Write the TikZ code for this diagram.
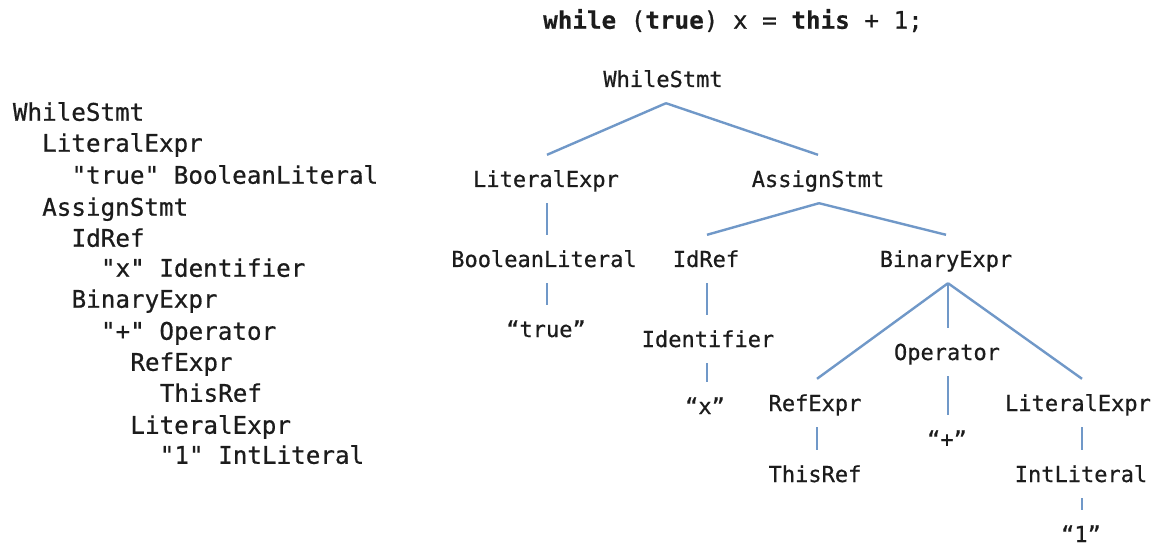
\documentclass[tikz,border=0pt]{standalone}
\usepackage{fontspec}
\setmonofont[FakeBold=0.6,BoldFeatures={FakeBold=0.3}]{DejaVu Sans Mono}
\definecolor{edgeblue}{RGB}{112,152,200}
\definecolor{ink}{RGB}{28,28,28}
\begin{document}
\begin{tikzpicture}[x=1pt,y=-1pt,
  treenode/.style={font=\fontsize{22}{22}\selectfont\ttfamily, text=ink, anchor=center,
    text height=16pt, text depth=0pt, inner xsep=0pt, inner ysep=16pt},
  listline/.style={font=\fontsize{24.25}{24.25}\selectfont\ttfamily, text=ink, anchor=west,
    text height=17.5pt, text depth=0pt, inner sep=0pt},
  edge/.style={draw=edgeblue, line width=2.4pt}]
\useasboundingbox (0,0) rectangle (1159,545);
\fill[white] (0,0) rectangle (1159,545);

% title
\node[listline] (title) at (543,20) {\textbf{while} (\textbf{true}) x = \textbf{this} + 1;};

% left indented listing
\node[listline] (l1)  at (12.7,112) {WhileStmt};
\node[listline] (l2)  at (42.0,143) {LiteralExpr};
\node[listline] (l3)  at (71.4,175) {"true" BooleanLiteral};
\node[listline] (l4)  at (42.0,207) {AssignStmt};
\node[listline] (l5)  at (71.4,238) {IdRef};
\node[listline] (l6)  at (100.8,268) {"x" Identifier};
\node[listline] (l7)  at (71.4,299) {BinaryExpr};
\node[listline] (l8)  at (100.8,331) {"+" Operator};
\node[listline] (l9)  at (130.2,362) {RefExpr};
\node[listline] (l10) at (159.6,393) {ThisRef};
\node[listline] (l11) at (130.2,425) {LiteralExpr};
\node[listline] (l12) at (159.6,455) {"1" IntLiteral};

% tree
\node[treenode] (ws)  at (663,79)  {WhileStmt};
\node[treenode] (le1) at (546,179) {LiteralExpr};
\node[treenode] (as)  at (818,179) {AssignStmt};
\node[treenode] (bl)  at (544,259) {BooleanLiteral};
\node[treenode] (tr)  at (546,329) {“true”};
\node[treenode] (id)  at (706,259) {IdRef};
\node[treenode] (be)  at (946,259) {BinaryExpr};
\node[treenode] (idf) at (708,339) {Identifier};
\node[treenode] (xq)  at (705,406) {“x”};
\node[treenode] (op)  at (947,352) {Operator};
\node[treenode] (pl)  at (947,439) {“+”};
\node[treenode] (re)  at (815,403) {RefExpr};
\node[treenode] (le2) at (1078,403) {LiteralExpr};
\node[treenode] (th)  at (815,474) {ThisRef};
\node[treenode] (il)  at (1081,474) {IntLiteral};
\node[treenode] (one) at (1081,534) {“1”};

% connectors
\draw[edge] ([xshift=3pt]ws.south) -- ([xshift=1pt]le1.north);
\draw[edge] ([xshift=3pt]ws.south) -- (as.north);
\draw[edge] ([xshift=1pt]le1.south) -- ([xshift=1pt]le1.south |- bl.north);
\draw[edge] ([xshift=3pt]bl.south) -- ([xshift=3pt]bl.south |- tr.north);
\draw[edge] ([xshift=1pt]as.south) -- ([xshift=1pt]id.north);
\draw[edge] ([xshift=1pt]as.south) -- (be.north);
\draw[edge] ([xshift=1pt]id.south) -- ([xshift=1pt]id.south |- idf.north);
\draw[edge] ([xshift=-1pt]idf.south) -- ([xshift=-1pt]idf.south |- xq.north);
\draw[edge] ([xshift=2pt]be.south) -- ([xshift=2pt]re.north);
\draw[edge] ([xshift=2pt]be.south) -- ([xshift=2pt]be.south |- op.north);
\draw[edge] ([xshift=2pt]be.south) -- ([xshift=4pt]le2.north);
\draw[edge] ([xshift=1pt]op.south) -- ([xshift=1pt]op.south |- pl.north);
\draw[edge] ([xshift=2pt]re.south) -- ([xshift=2pt]re.south |- th.north);
\draw[edge] ([xshift=4pt]le2.south) -- ([xshift=4pt]le2.south |- il.north);
\draw[edge] ([xshift=1pt]il.south) -- ([xshift=1pt]il.south |- one.north);
\end{tikzpicture}
\end{document}
